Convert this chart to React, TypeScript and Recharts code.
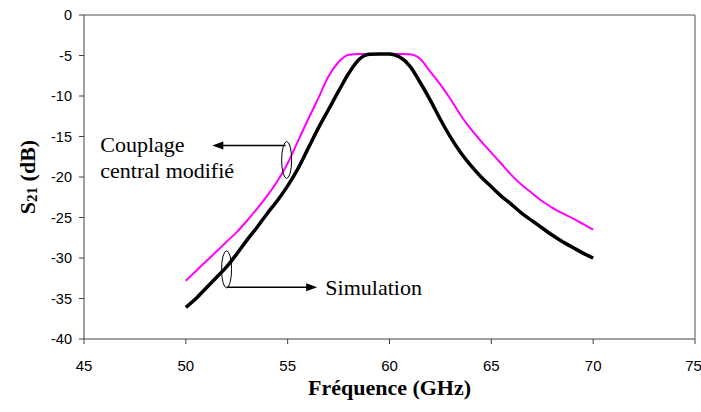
import React from 'react';
import {
  LineChart,
  Line,
  XAxis,
  YAxis,
  ReferenceLine,
  ReferenceDot,
  Label,
} from 'recharts';

// frequency samples (GHz)
const freq = [
  50, 50.5, 51, 51.5, 52, 52.5, 53, 53.5, 54, 54.5,
  55, 55.5, 56, 56.5, 57, 57.5, 58, 58.5, 59, 59.5,
  60, 60.5, 61, 61.5, 62, 62.5, 63, 63.5, 64, 64.5,
  65, 65.5, 66, 66.5, 67, 67.5, 68, 68.5, 69, 69.5, 70,
];

// S21 simulation (dB)
const simulation = [
  -36.1, -35.0, -33.7, -32.4, -31.1, -29.5, -27.8, -26.2, -24.5, -22.9,
  -21.1, -19.0, -16.5, -14.0, -11.7, -9.4, -7.2, -5.5, -4.85, -4.8,
  -4.8, -5.2, -6.3, -8.3, -10.5, -12.9, -15.1, -17.0, -18.6, -20.0,
  -21.2, -22.4, -23.4, -24.5, -25.4, -26.3, -27.2, -28.0, -28.7, -29.4, -30.0,
];

// S21 with modified central coupling (dB)
const couplageModifie = [
  -32.8, -31.6, -30.4, -29.2, -28.0, -26.8, -25.4, -23.9, -22.3, -20.5,
  -18.3, -15.6, -12.9, -10.3, -7.6, -5.8, -4.9, -4.8, -4.8, -4.8,
  -4.8, -4.8, -4.85, -5.4, -7.0, -8.6, -10.4, -12.4, -14.1, -15.6,
  -17.0, -18.4, -19.8, -21.0, -22.0, -23.0, -23.8, -24.5, -25.1, -25.8, -26.5,
];

const xTicks = [45, 50, 55, 60, 65, 70, 75];
const yTicks = [0, -5, -10, -15, -20, -25, -30, -35, -40];

const data = freq.map((f, i) => ({
  f,
  sim: simulation[i],
  mod: couplageModifie[i],
}));

const serif = '"Liberation Serif", "Times New Roman", serif';
const sans = '"Liberation Sans", Arial, sans-serif';

// horizontal arrow, head at (x2, y2)
const Arrow = (props: any) => {
  const { x1, y1, x2, y2 } = props;
  const dir = x2 > x1 ? 1 : -1;
  return (
    <g>
      <line x1={x1} y1={y1} x2={x2 - dir * 8} y2={y2} stroke="#000" strokeWidth={1.5} />
      <polygon
        points={`${x2},${y2} ${x2 - dir * 11},${y2 - 4} ${x2 - dir * 11},${y2 + 4}`}
        fill="#000"
      />
    </g>
  );
};

const Ellipse = (props: any) => (
  <ellipse cx={props.cx} cy={props.cy} rx={5} ry={18.5} fill="none" stroke="#000" strokeWidth={1} />
);

const CouplageText = (props: any) => (
  <text x={props.cx} y={props.cy + 7} fontFamily={serif} fontSize={22} fill="#000">
    <tspan x={props.cx}>Couplage</tspan>
    <tspan x={props.cx} dy={26}>central modifié</tspan>
  </text>
);

const SimulationText = (props: any) => (
  <text x={props.cx} y={props.cy + 8} fontFamily={serif} fontSize={22} fill="#000">
    Simulation
  </text>
);

const YTitle = (props: any) => {
  const { viewBox } = props;
  const cx = 35;
  const cy = viewBox.y + viewBox.height / 2;
  return (
    <text
      x={cx}
      y={cy}
      transform={`rotate(-90, ${cx}, ${cy})`}
      textAnchor="middle"
      fontFamily={serif}
      fontWeight="bold"
      fontSize={22}
      fill="#000"
    >
      S<tspan fontSize={15} dy={2}>21</tspan>
      <tspan dy={-2}> (dB)</tspan>
    </text>
  );
};

const XTitle = (props: any) => {
  const { viewBox } = props;
  return (
    <text
      x={viewBox.x + viewBox.width / 2}
      y={viewBox.y + 56}
      textAnchor="middle"
      fontFamily={serif}
      fontWeight="bold"
      fontSize={22}
      fill="#000"
    >
      Fréquence (GHz)
    </text>
  );
};

export default function App() {
  return (
    <div style={{ position: 'absolute', left: 0, top: 0, background: '#fff' }}>
      <LineChart
        width={701}
        height={412}
        data={data}
        margin={{ top: 15, right: 6, bottom: 43, left: 0 }}
      >
        <XAxis
          dataKey="f"
          type="number"
          domain={[45, 75]}
          ticks={xTicks}
          allowDataOverflow
          height={30}
          stroke="#404040"
          tickSize={5}
          tickMargin={16}
          tick={{ fill: '#000', fontFamily: sans, fontSize: 15 }}
        >
          <Label content={XTitle} />
        </XAxis>
        <YAxis
          type="number"
          domain={[-40, 0]}
          ticks={yTicks}
          width={84}
          stroke="#404040"
          tickSize={5}
          tickMargin={7}
          tick={{ fill: '#000', fontFamily: sans, fontSize: 14.5 }}
        >
          <Label content={YTitle} />
        </YAxis>
        <ReferenceLine y={0} stroke="#888" strokeWidth={1.5} />
        <ReferenceLine x={75} stroke="#888" strokeWidth={1.5} />
        <Line
          type="monotone"
          dataKey="mod"
          stroke="#ff00ff"
          strokeWidth={2}
          dot={false}
          isAnimationActive={false}
        />
        <Line
          type="monotone"
          dataKey="sim"
          stroke="#000"
          strokeWidth={3.5}
          dot={false}
          isAnimationActive={false}
        />
        {/* Couplage central modifié annotation */}
        <ReferenceDot x={54.95} y={-17.9} r={0} shape={Ellipse} />
        <ReferenceLine
          segment={[{ x: 54.9, y: -16.1 }, { x: 51.3, y: -16.1 }]}
          shape={Arrow}
        />
        <ReferenceDot x={45.8} y={-16.1} r={0} shape={CouplageText} />
        {/* Simulation annotation */}
        <ReferenceDot x={52.0} y={-31.4} r={0} shape={Ellipse} />
        <ReferenceLine
          segment={[{ x: 52.0, y: -33.6 }, { x: 56.45, y: -33.6 }]}
          shape={Arrow}
        />
        <ReferenceDot x={56.85} y={-33.6} r={0} shape={SimulationText} />
      </LineChart>
    </div>
  );
}
